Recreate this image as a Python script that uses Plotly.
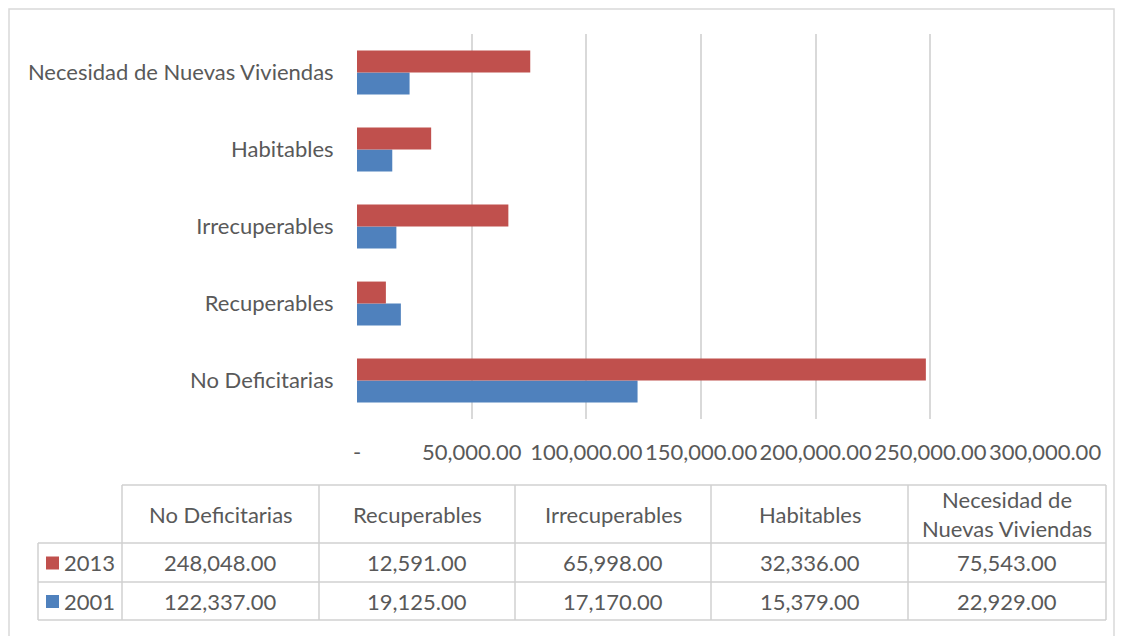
import plotly.graph_objects as go

categories = ["No Deficitarias", "Recuperables", "Irrecuperables", "Habitables", "Necesidad de Nuevas Viviendas"]
header_labels = ["No Deficitarias", "Recuperables", "Irrecuperables", "Habitables", "Necesidad de<br>Nuevas Viviendas"]
values_2013 = [248048, 12591, 65998, 32336, 75543]
values_2001 = [122337, 19125, 17170, 15379, 22929]
tick_values = [0, 50000, 100000, 150000, 200000, 250000, 300000]
tick_labels = ["-", "50,000.00", "100,000.00", "150,000.00", "200,000.00", "250,000.00", "300,000.00"]

RED = "#C0504D"
BLUE = "#4F81BD"
TXT = "#595959"
GRID = "#D9D9D9"
FONT = "Lato, Carlito, Calibri, sans-serif"
FS = 22

# page offset of the figure (body margin)
OFF = 8
W, H = 1123 - 2 * OFF, 644 - 2 * OFF

# plot area in page pixels
PL, PR, PT, PB = 357, 1045, 34, 419
ML, MR, MT, MB = PL - OFF, W - (PR - OFF), PT - OFF, H - (PB - OFF)
PW, PH = PR - PL, PB - PT

fig = go.Figure()
fig.add_trace(go.Bar(y=categories, x=values_2001, name="2001", orientation="h",
                     marker=dict(color=BLUE, line=dict(width=0))))
fig.add_trace(go.Bar(y=categories, x=values_2013, name="2013", orientation="h",
                     marker=dict(color=RED, line=dict(width=0))))

fig.update_layout(
    width=W, height=H,
    margin=dict(l=ML, r=MR, t=MT, b=MB, autoexpand=False),
    paper_bgcolor="white", plot_bgcolor="white",
    barmode="group", bargap=0.43, bargroupgap=0,
    showlegend=False,
    font=dict(family=FONT, color=TXT, size=FS),
)
fig.update_xaxes(range=[0, 300000], tickvals=tick_values, ticktext=tick_labels,
                 showgrid=True, gridcolor=GRID, gridwidth=1.5, zeroline=False,
                 showline=False, ticks="outside", ticklen=14, tickcolor="rgba(0,0,0,0)",
                 tickfont=dict(size=FS, color=TXT), automargin=False)
fig.update_yaxes(categoryorder="array", categoryarray=categories,
                 showgrid=False, zeroline=False, showline=False,
                 ticks="outside", ticklen=18, tickcolor="rgba(0,0,0,0)",
                 tickfont=dict(size=FS, color=TXT), automargin=False)

shapes = []
annotations = []

def px(x):
    return (x - PL) / PW

def py(y):
    return (PB - y) / PH

# outer chart border
shapes.append(dict(type="rect", xref="paper", yref="paper",
                   x0=px(OFF + 1), x1=px(OFF + W - 1), y0=py(700), y1=py(OFF + 1),
                   line=dict(color="#D9D9D9", width=1.5), fillcolor="rgba(0,0,0,0)"))

# table geometry
col_x = [38, 122, 319, 515, 711, 908, 1106]
row_y = [485, 543, 582, 620]
LC = "#D0D0D0"

def hline(x0, x1, y):
    shapes.append(dict(type="line", xref="paper", yref="paper",
                       x0=px(x0), x1=px(x1), y0=py(y), y1=py(y),
                       line=dict(color=LC, width=1.5)))

def vline(x, y0, y1):
    shapes.append(dict(type="line", xref="paper", yref="paper",
                       x0=px(x), x1=px(x), y0=py(y0), y1=py(y1),
                       line=dict(color=LC, width=1.5)))

hline(col_x[1], col_x[-1], row_y[0])
hline(col_x[0], col_x[-1], row_y[1])
hline(col_x[0], col_x[-1], row_y[2])
hline(col_x[0], col_x[-1], row_y[3])
vline(col_x[0], row_y[1], row_y[3])
for cx in col_x[1:]:
    vline(cx, row_y[0], row_y[3])

for i, lab in enumerate(header_labels):
    xc = (col_x[i + 1] + col_x[i + 2]) / 2
    yc = (row_y[0] + row_y[1]) / 2
    annotations.append(dict(xref="paper", yref="paper", x=px(xc), y=py(yc),
                            text=lab, showarrow=False, xanchor="center", yanchor="middle",
                            font=dict(family=FONT, size=FS, color=TXT)))

rows = [("2013", values_2013, RED), ("2001", values_2001, BLUE)]
for r, (name, vals, col) in enumerate(rows):
    yc = (row_y[r + 1] + row_y[r + 2]) / 2
    shapes.append(dict(type="rect", xref="paper", yref="paper",
                       x0=px(46), x1=px(59), y0=py(yc + 7), y1=py(yc - 6),
                       fillcolor=col, line=dict(width=0)))
    annotations.append(dict(xref="paper", yref="paper", x=px(62), y=py(yc),
                            text=name, showarrow=False, xanchor="left", yanchor="middle",
                            font=dict(family=FONT, size=FS, color=TXT)))
    for i, v in enumerate(vals):
        xc = (col_x[i + 1] + col_x[i + 2]) / 2
        annotations.append(dict(xref="paper", yref="paper", x=px(xc), y=py(yc),
                                text=f"{v:,.2f}", showarrow=False, xanchor="center", yanchor="middle",
                                font=dict(family=FONT, size=FS, color=TXT)))

fig.update_layout(shapes=shapes, annotations=annotations)
fig.write_html("out.html")
